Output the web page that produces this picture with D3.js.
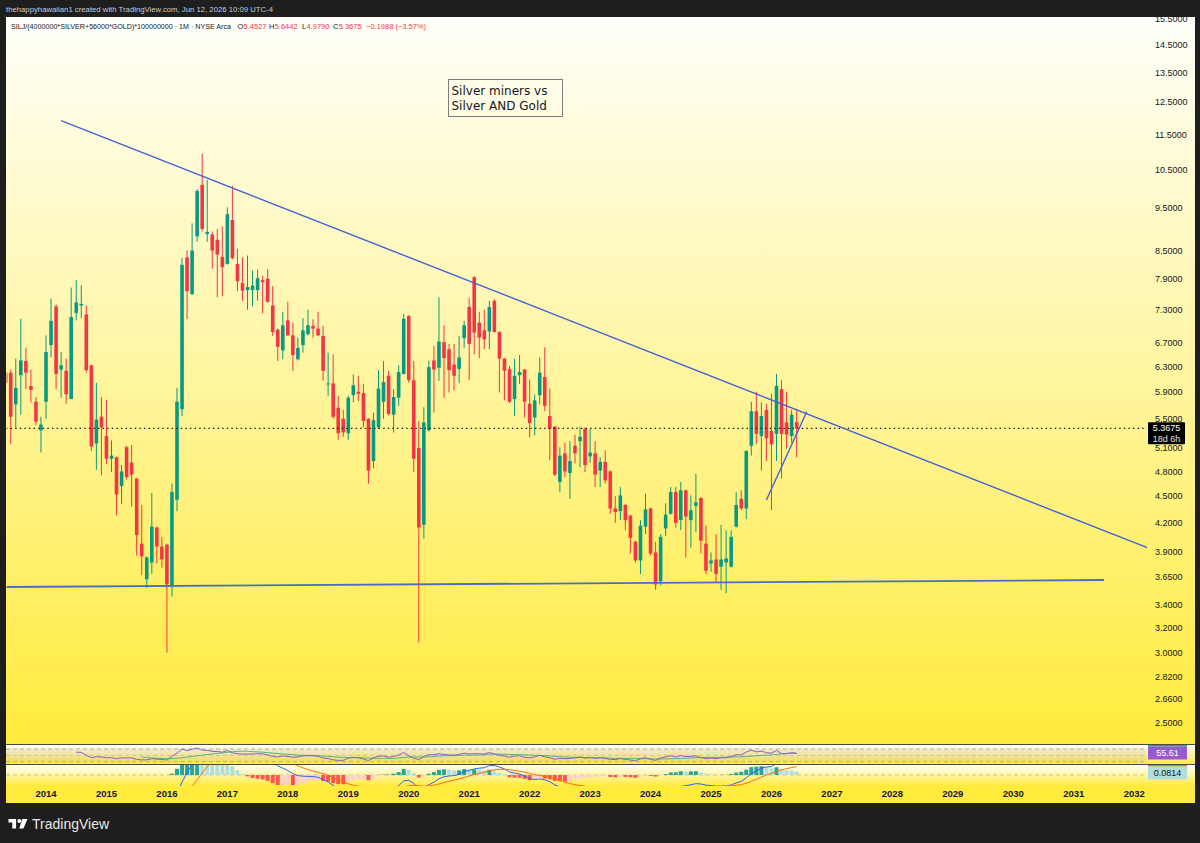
<!DOCTYPE html>
<html>
<head>
<meta charset="utf-8">
<script src="https://cdn.jsdelivr.net/npm/d3@7"></script>
<style>
  body { margin: 0; background: #1e1e1e; }
  svg { display: block; }
</style>
</head>
<body>
<script>
// ---- data (monthly bars) ----
var firstBar = "2013-05";

var opens = [
  6.20, 6.20, 5.71, 6.16, 6.39, 5.99, 5.75, 5.34,                         // 2013 May-Dec
  5.75, 6.66, 7.36, 6.25, 6.23, 5.79, 7.24, 7.38, 7.21, 6.32, 5.16, 5.53, // 2014
  5.26, 4.96, 4.98, 4.62, 5.11, 4.91, 4.71, 3.98, 3.63, 3.79, 4.15, 3.95, // 2015
  3.97, 3.57, 4.46, 5.64, 8.36, 7.60, 8.83, 10.09, 8.88, 8.87, 8.75, 8.37, // 2016
  8.22, 9.21, 8.22, 7.82, 7.68, 7.68, 7.68, 7.88, 7.91, 7.38, 6.93, 6.57, // 2017
  7.10, 6.83, 6.42, 6.66, 6.85, 7.00, 6.95, 6.82, 6.02, 6.03, 5.66, 5.50, // 2018
  5.30, 5.85, 5.90, 5.88, 5.50, 4.93, 5.38, 5.75, 6.15, 5.56, 5.81, 6.18, // 2019
  7.18, 6.08, 5.10, 4.18, 5.34, 6.40, 6.28, 6.71, 6.59, 6.33, 6.26, 6.78, // 2020
  7.35, 7.94, 7.06, 6.92, 6.90, 7.47, 6.89, 6.43, 6.26, 5.79, 6.16, 6.25, // 2021
  5.72, 5.52, 5.85, 6.13, 5.54, 5.39, 4.67, 5.03, 4.78, 5.13, 5.19, 5.36, // 2022
  4.99, 5.03, 4.81, 4.92, 4.80, 4.36, 4.33, 4.40, 4.28, 4.00, 3.81, 4.16, // 2023
  4.36, 3.89, 3.61, 4.14, 4.30, 4.55, 4.23, 4.57, 4.23, 4.39, 4.48, 3.98, // 2024
  3.78, 3.82, 3.75, 3.79, 3.75, 4.16, 4.47, 4.36, 5.13, 5.61, 5.26, 5.63, // 2025
  5.33, 5.29, 5.94, 5.45, 5.26, 5.4527                                    // 2026
];
var highs = [
  6.23, 6.25, 6.43, 7.13, 6.61, 6.25, 5.82, 5.53,
  6.83, 7.51, 7.40, 6.54, 6.43, 7.73, 7.88, 7.78, 7.38, 6.33, 6.04, 5.82,
  5.78, 5.20, 4.99, 4.88, 5.13, 5.14, 4.72, 4.40, 3.85, 4.54, 4.16, 4.05,
  3.98, 4.65, 5.96, 8.35, 8.51, 9.13, 9.98, 10.94, 10.22, 8.94, 9.00, 9.06,
  9.52, 10.06, 8.55, 8.36, 8.40, 8.08, 8.10, 7.97, 8.11, 7.76, 6.95, 7.26,
  7.45, 7.06, 6.79, 7.14, 7.30, 7.12, 7.26, 7.00, 6.53, 6.50, 5.84, 5.63,
  5.84, 6.17, 6.15, 6.02, 5.51, 5.59, 6.24, 6.39, 6.23, 5.94, 6.32, 7.22,
  7.20, 6.39, 5.47, 5.67, 6.40, 6.64, 7.54, 7.01, 6.68, 6.68, 6.82, 7.09,
  7.52, 7.96, 7.26, 7.30, 7.47, 7.50, 6.90, 6.44, 6.31, 6.43, 6.49, 6.26,
  6.09, 5.86, 6.45, 6.62, 5.95, 5.40, 5.11, 5.17, 5.19, 5.28, 5.39, 5.38,
  5.36, 5.19, 4.98, 5.07, 4.81, 4.50, 4.61, 4.41, 4.29, 4.01, 4.23, 4.53,
  4.37, 4.00, 4.08, 4.42, 4.61, 4.61, 4.67, 4.58, 4.51, 4.77, 4.49, 4.17,
  3.89, 4.08, 4.18, 4.12, 4.12, 4.55, 4.57, 5.07, 5.75, 5.90, 5.74, 5.72,
  5.87, 6.18, 6.08, 5.90, 5.63, 5.6442
];
var lows = [
  6.02, 5.15, 5.38, 5.56, 5.94, 5.74, 5.41, 5.04,
  5.50, 6.45, 5.94, 5.81, 5.72, 5.79, 7.10, 7.14, 6.20, 5.06, 4.82, 4.75,
  4.89, 4.79, 4.28, 4.41, 4.70, 4.38, 3.86, 3.67, 3.55, 3.68, 3.78, 3.74,
  3.00, 3.47, 4.33, 5.54, 7.12, 7.58, 8.71, 8.94, 8.71, 8.12, 7.54, 7.56,
  8.20, 8.32, 7.66, 7.47, 7.30, 7.36, 7.47, 7.23, 7.43, 6.82, 6.39, 6.42,
  6.82, 6.23, 6.40, 6.53, 6.83, 6.79, 6.82, 6.07, 5.84, 5.50, 5.21, 5.25,
  5.21, 5.74, 5.76, 5.38, 4.65, 4.84, 5.36, 5.50, 5.55, 5.31, 5.69, 6.17,
  6.04, 4.79, 3.08, 4.03, 5.32, 5.59, 6.07, 5.81, 5.89, 5.92, 6.03, 6.61,
  6.08, 6.50, 6.44, 6.59, 6.59, 6.88, 5.89, 5.77, 5.73, 5.54, 6.02, 5.52,
  5.24, 5.27, 5.71, 5.61, 4.94, 4.74, 4.55, 4.73, 4.47, 4.90, 4.85, 4.79,
  4.91, 4.61, 4.61, 4.65, 4.30, 4.20, 4.23, 4.12, 3.88, 3.79, 3.68, 4.08,
  3.86, 3.53, 3.57, 4.06, 4.29, 4.15, 4.12, 3.84, 3.94, 4.10, 3.88, 3.68,
  3.70, 3.60, 3.53, 3.50, 3.74, 4.15, 4.34, 4.24, 5.00, 5.15, 4.81, 4.93,
  4.34, 4.93, 4.71, 5.09, 5.17, 4.979
];
var closes = [
  6.04, 5.53, 5.96, 6.40, 6.20, 5.93, 5.46, 5.42,
  6.54, 7.09, 6.18, 6.32, 5.86, 7.16, 7.44, 7.41, 6.24, 5.12, 5.49, 5.38,
  4.96, 5.00, 4.52, 4.80, 4.73, 4.76, 4.07, 3.85, 3.84, 4.16, 3.95, 3.82,
  3.58, 4.55, 5.75, 8.20, 7.66, 8.51, 9.93, 9.00, 8.93, 8.51, 8.42, 8.15,
  9.35, 8.34, 7.86, 7.67, 7.74, 7.77, 7.92, 7.84, 7.45, 6.89, 6.63, 7.01,
  6.83, 6.49, 6.61, 6.92, 7.01, 6.95, 6.83, 6.23, 6.03, 5.53, 5.30, 5.31,
  5.81, 6.00, 5.87, 5.47, 4.81, 5.48, 5.95, 6.05, 5.57, 5.82, 6.21, 7.13,
  6.08, 4.96, 4.15, 5.45, 6.29, 6.25, 6.72, 6.44, 6.24, 6.15, 6.45, 7.01,
  6.68, 6.88, 6.79, 6.76, 7.35, 6.89, 6.43, 6.23, 5.75, 6.15, 6.21, 5.75,
  5.44, 5.77, 6.20, 5.69, 5.36, 4.76, 5.00, 4.80, 4.93, 5.03, 5.25, 4.88,
  5.04, 4.76, 4.92, 4.69, 4.36, 4.32, 4.51, 4.23, 4.04, 3.81, 4.17, 4.35,
  3.88, 3.58, 4.05, 4.29, 4.55, 4.20, 4.57, 4.27, 4.34, 4.43, 4.01, 3.71,
  3.81, 3.68, 3.82, 3.83, 4.05, 4.40, 4.36, 5.06, 5.61, 5.29, 5.54, 5.23,
  5.15, 5.99, 5.29, 5.28, 5.56, 5.3675
];

var priceTicks = [15.5, 14.5, 13.5, 12.5, 11.5, 10.5, 9.5, 8.5, 7.9, 7.3, 6.7, 6.3,
                  5.9, 5.5, 5.1, 4.8, 4.5, 4.2, 3.9, 3.65, 3.4, 3.2, 3.0, 2.82, 2.66, 2.5];
var yearTicks = [2014, 2015, 2016, 2017, 2018, 2019, 2020, 2021, 2022, 2023,
                 2024, 2025, 2026, 2027, 2028, 2029, 2030, 2031, 2032];

// drawings: [month, price]
var resistanceLine = [["2014-04", 11.92], ["2032-07", 3.870]];
var supportLine = [["2013-05", 3.557], ["2031-07", 3.622]];
var breakoutLine = [["2025-12", 4.457], ["2026-08", 5.603]];

var lastClose = 5.3675, countdown = "18d 6h";
var rsiLast = "55.61", histLast = "0.0814";
var headerText = "thehappyhawaiian1 created with TradingView.com, Jun 12, 2026 10:09 UTC-4";
var symbolText = "SILJ/(4000000*SILVER+56000*GOLD)*100000000 \u00b7 1M \u00b7 NYSE Arca";
var ohlcLegend = [["O", "5.4527"], ["H", "5.6442"], ["L", "4.9790"], ["C", "5.3675"]];
var changeText = "\u22120.1988 (\u22123.57%)";
var noteLines = ["Silver miners vs", "Silver AND Gold"];

// ---- layout ----
var W = 1200, H = 843;
var left = 6, right = 1195, paneRight = 1147;
var priceTop = 17, priceBottom = 744;
var rsiTop = 745, rsiBottom = 764;
var macdTop = 765, macdBottom = 786, chartBottom = 803;
var upColor = "#089981", downColor = "#f23645";

function monthIndex(s) {
  var p = s.split("-");
  return (+p[0] - 2014) * 12 + (+p[1] - 1);
}

var x = d3.scaleLinear()
  .domain([monthIndex("2013-05"), monthIndex("2032-01")])
  .range([5.7, 1134.2]);

var y = d3.scaleLog()
  .domain([2.3675, 15.59])
  .range([priceBottom, priceTop]);

var rsiY = d3.scaleLinear().domain([30, 70]).range([761.7, 749]);
var macdY = d3.scaleLinear().domain([0, 0.1]).range([775, 771]);

var bars = opens.map(function (o, i) {
  return { m: monthIndex(firstBar) + i, o: o, h: highs[i], l: lows[i], c: closes[i] };
});

// ---- indicators from the closes ----
function rsi(src, n) {
  var out = src.map(function () { return null; });
  var g = 0, l = 0;
  for (var i = 1; i < src.length; i++) {
    var d = src[i] - src[i - 1], up = Math.max(d, 0), dn = Math.max(-d, 0);
    if (i <= n) {
      g += up; l += dn;
      if (i === n) { g /= n; l /= n; out[i] = 100 - 100 / (1 + g / l); }
    } else {
      g = (g * (n - 1) + up) / n;
      l = (l * (n - 1) + dn) / n;
      out[i] = l === 0 ? 100 : 100 - 100 / (1 + g / l);
    }
  }
  return out;
}
function sma(src, n) {
  var buf = [];
  return src.map(function (v) {
    if (v == null) return null;
    buf.push(v);
    if (buf.length > n) buf.shift();
    return buf.length === n ? d3.mean(buf) : null;
  });
}
function ema(src, n) {
  var k = 2 / (n + 1), prev = null, buf = [];
  return src.map(function (v) {
    if (v == null) return null;
    if (prev == null) {
      buf.push(v);
      if (buf.length === n) { prev = d3.mean(buf); return prev; }
      return null;
    }
    prev = v * k + prev * (1 - k);
    return prev;
  });
}

var rsiVals = rsi(closes, 14);
var rsiMa = sma(rsiVals, 14);
var ema12 = ema(closes, 12), ema26 = ema(closes, 26);
var macd = closes.map(function (c, i) {
  return ema12[i] != null && ema26[i] != null ? ema12[i] - ema26[i] : null;
});
var signal = ema(macd, 9);
var hist = macd.map(function (v, i) {
  return v != null && signal[i] != null ? v - signal[i] : null;
});

// ---- svg ----
var svg = d3.select("body").append("svg")
  .attr("width", W).attr("height", H)
  .style("font-family", "'Liberation Sans', Arial, sans-serif");

svg.append("rect").attr("width", W).attr("height", H).attr("fill", "#1e1e1e");

var defs = svg.append("defs");
var grad = defs.append("linearGradient").attr("id", "paneBg")
  .attr("x1", 0).attr("y1", 0).attr("x2", 0).attr("y2", 1);
grad.append("stop").attr("offset", "0%").attr("stop-color", "#fffffa");
grad.append("stop").attr("offset", "45%").attr("stop-color", "#fff6a8");
grad.append("stop").attr("offset", "100%").attr("stop-color", "#ffeb3b");

function clip(id, x0, y0, x1, y1) {
  defs.append("clipPath").attr("id", id).append("rect")
    .attr("x", x0).attr("y", y0).attr("width", x1 - x0).attr("height", y1 - y0);
}
clip("priceClip", 6.6, priceTop, paneRight, priceBottom);
clip("axisClip", paneRight, priceTop, right, priceBottom);
clip("rsiClip", left, rsiTop, paneRight, rsiBottom);
clip("macdClip", left, macdTop, paneRight, macdBottom);

// pane backgrounds
[[priceTop, priceBottom], [rsiTop, rsiBottom], [macdTop, macdBottom]].forEach(function (p) {
  svg.append("rect").attr("x", left).attr("y", p[0])
    .attr("width", right - left).attr("height", p[1] - p[0])
    .attr("fill", "url(#paneBg)");
});
svg.append("rect").attr("x", left).attr("y", macdBottom)
  .attr("width", right - left).attr("height", chartBottom - macdBottom)
  .attr("fill", "#ffeb3b");

// pane separators
[priceBottom + 0.5, rsiBottom + 0.5].forEach(function (yy) {
  svg.append("line").attr("x1", left).attr("x2", right).attr("y1", yy).attr("y2", yy)
    .attr("stroke", "#4a4a3c").attr("stroke-width", 1);
});

// header
svg.append("text").attr("x", 6).attr("y", 12)
  .attr("font-size", 8).attr("fill", "#c9ccd4")
  .attr("textLength", 267).attr("lengthAdjust", "spacingAndGlyphs")
  .text(headerText);

// ---- price pane ----
var pricePane = svg.append("g").attr("clip-path", "url(#priceClip)");

var candles = pricePane.selectAll("g.bar")
  .data(bars)
  .enter().append("g")
  .attr("class", "bar");

candles.append("line")
  .attr("x1", function (d) { return x(d.m); })
  .attr("x2", function (d) { return x(d.m); })
  .attr("y1", function (d) { return y(d.h); })
  .attr("y2", function (d) { return y(d.l); })
  .attr("stroke", function (d) { return d.c >= d.o ? upColor : downColor; })
  .attr("stroke-width", 1);

candles.append("rect")
  .attr("x", function (d) { return x(d.m) - 1.8; })
  .attr("width", 3.6)
  .attr("y", function (d) { return Math.min(y(d.o), y(d.c)); })
  .attr("height", function (d) { return Math.max(1, Math.abs(y(d.o) - y(d.c))); })
  .attr("fill", function (d) { return d.c >= d.o ? upColor : downColor; });

// current price dotted line
pricePane.append("line")
  .attr("x1", left).attr("x2", paneRight)
  .attr("y1", y(lastClose)).attr("y2", y(lastClose))
  .attr("stroke", "#131722").attr("stroke-width", 1.3)
  .attr("stroke-dasharray", "1.4,3.2");

// drawings
function drawLine(pts, color, w) {
  pricePane.append("line")
    .attr("x1", x(monthIndex(pts[0][0]))).attr("y1", y(pts[0][1]))
    .attr("x2", x(monthIndex(pts[1][0]))).attr("y2", y(pts[1][1]))
    .attr("stroke", color).attr("stroke-width", w);
}
drawLine(resistanceLine, "#4263d6", 1.4);
drawLine(supportLine, "#4a6dc2", 1.8);
drawLine(breakoutLine, "#4263d6", 1.4);

// text note
var noteX = 448.5, noteY = 79.5;
svg.append("rect").attr("x", noteX).attr("y", noteY)
  .attr("width", 114).attr("height", 37)
  .attr("fill", "none").attr("stroke", "#7c7c7c").attr("stroke-width", 1);
noteLines.forEach(function (t, i) {
  svg.append("text").attr("x", 451.5).attr("y", 95 + i * 15)
    .attr("font-family", "'DejaVu Sans', Verdana, sans-serif")
    .attr("font-size", 12).attr("fill", "#131722").text(t);
});

// legend: symbol line, then O/H/L/C pairs
var legendY = 28.5, legendSize = 7.5;
svg.append("text").attr("x", 11).attr("y", legendY)
  .attr("font-size", 7.2).attr("fill", "#131722")
  .attr("textLength", 220).attr("lengthAdjust", "spacingAndGlyphs")
  .text(symbolText);
var legendX = [237.5, 269, 302, 333];
var letterW = { O: 6.1, H: 5.7, L: 4.5, C: 5.7 };
ohlcLegend.forEach(function (d, i) {
  svg.append("text").attr("x", legendX[i]).attr("y", legendY)
    .attr("font-size", legendSize).attr("fill", "#131722").text(d[0]);
  svg.append("text").attr("x", legendX[i] + letterW[d[0]]).attr("y", legendY)
    .attr("font-size", legendSize).attr("fill", downColor).text(d[1]);
});
svg.append("text").attr("x", 366).attr("y", legendY)
  .attr("font-size", legendSize).attr("fill", downColor).text(changeText);

// price axis
var axisG = svg.append("g").attr("clip-path", "url(#axisClip)");
axisG.selectAll("text.tick")
  .data(priceTicks)
  .enter().append("text")
  .attr("class", "tick")
  .attr("x", 1155)
  .attr("y", function (d) { return y(d) + 3.2; })
  .attr("font-size", 9).attr("fill", "#131722")
  .text(function (d) { return d.toFixed(4); });

// last price label
var ly = y(lastClose);
svg.append("rect").attr("x", 1148).attr("y", ly - 6).attr("width", 37).attr("height", 22)
  .attr("fill", "#000000").attr("rx", 1);
svg.append("text").attr("x", 1166.5).attr("y", ly + 3.2).attr("text-anchor", "middle")
  .attr("font-size", 9).attr("fill", "#ffffff").text(lastClose.toFixed(4));
svg.append("text").attr("x", 1166.5).attr("y", ly + 13.5).attr("text-anchor", "middle")
  .attr("font-size", 9).attr("fill", "#e0e0e0").text(countdown);

// ---- RSI pane ----
var rsiPane = svg.append("g").attr("clip-path", "url(#rsiClip)");
rsiPane.append("rect").attr("x", left).attr("y", rsiY(70))
  .attr("width", paneRight - left).attr("height", rsiY(30) - rsiY(70))
  .attr("fill", "#7e57c2").attr("opacity", 0.1);
[70, 50, 30].forEach(function (lv) {
  rsiPane.append("line").attr("x1", left).attr("x2", paneRight)
    .attr("y1", rsiY(lv)).attr("y2", rsiY(lv))
    .attr("stroke", "#9598a1").attr("stroke-width", 0.8)
    .attr("stroke-dasharray", "4,3").attr("opacity", lv === 50 ? 0.5 : 0.9);
});
var rsiLine = d3.line()
  .defined(function (d) { return d.v != null; })
  .x(function (d) { return x(d.m); })
  .y(function (d) { return rsiY(d.v); });
rsiPane.append("path")
  .datum(bars.map(function (b, i) { return { m: b.m, v: rsiMa[i] }; }))
  .attr("d", rsiLine).attr("fill", "none").attr("stroke", "#52b788").attr("stroke-width", 1);
rsiPane.append("path")
  .datum(bars.map(function (b, i) { return { m: b.m, v: rsiVals[i] }; }))
  .attr("d", rsiLine).attr("fill", "none").attr("stroke", "#8a5cc9").attr("stroke-width", 1);

svg.append("rect").attr("x", 1148).attr("y", 745).attr("width", 39).attr("height", 1.6).attr("fill", "#2aa37a");
svg.append("rect").attr("x", 1148).attr("y", 746.5).attr("width", 39).attr("height", 13).attr("fill", "#9b59d0");
svg.append("text").attr("x", 1167.5).attr("y", 756.3).attr("text-anchor", "middle")
  .attr("font-size", 9).attr("fill", "#ffffff").text(rsiLast);

// ---- MACD pane ----
var macdPane = svg.append("g").attr("clip-path", "url(#macdClip)");
macdPane.append("line").attr("x1", left).attr("x2", paneRight)
  .attr("y1", macdY(0)).attr("y2", macdY(0))
  .attr("stroke", "#9598a1").attr("stroke-width", 0.8).attr("stroke-dasharray", "4,3").attr("opacity", 0.7);

var histData = bars.map(function (b, i) {
  var h = hist[i], p = i > 0 ? hist[i - 1] : null, col = null;
  if (h != null) {
    if (h >= 0) col = (p == null || h > p) ? "#26a69a" : "#b2dfdb";
    else col = (p == null || h < p) ? "#ff5252" : "#ffcdd2";
  }
  return { m: b.m, v: h, color: col };
}).filter(function (d) { return d.v != null; });

macdPane.selectAll("rect.hist")
  .data(histData)
  .enter().append("rect")
  .attr("class", "hist")
  .attr("x", function (d) { return x(d.m) - 2; })
  .attr("width", 4)
  .attr("y", function (d) { return Math.min(macdY(0), macdY(d.v)); })
  .attr("height", function (d) { return Math.abs(macdY(d.v) - macdY(0)); })
  .attr("fill", function (d) { return d.color; });

var macdLine = d3.line()
  .defined(function (d) { return d.v != null; })
  .x(function (d) { return x(d.m); })
  .y(function (d) { return macdY(d.v); });
macdPane.append("path")
  .datum(bars.map(function (b, i) { return { m: b.m, v: macd[i] }; }))
  .attr("d", macdLine).attr("fill", "none").attr("stroke", "#2962ff").attr("stroke-width", 1);
macdPane.append("path")
  .datum(bars.map(function (b, i) { return { m: b.m, v: signal[i] }; }))
  .attr("d", macdLine).attr("fill", "none").attr("stroke", "#ff6d00").attr("stroke-width", 1);

svg.append("rect").attr("x", 1148).attr("y", 765).attr("width", 39).attr("height", 1.6).attr("fill", "#e0772a");
svg.append("rect").attr("x", 1148).attr("y", 766.5).attr("width", 39).attr("height", 13).attr("fill", "#b2dfdb");
svg.append("text").attr("x", 1167.5).attr("y", 776.3).attr("text-anchor", "middle")
  .attr("font-size", 9).attr("fill", "#131722").text(histLast);

// ---- time axis ----
svg.selectAll("text.year")
  .data(yearTicks)
  .enter().append("text")
  .attr("class", "year")
  .attr("x", function (d) { return x(monthIndex(d + "-01")); })
  .attr("y", 797)
  .attr("text-anchor", "middle")
  .attr("font-size", 9.5).attr("font-weight", "bold").attr("fill", "#131722")
  .text(function (d) { return d; });

// ---- TradingView mark ----
var logo = svg.append("g").attr("fill", "#ffffff");
logo.append("path").attr("d", "M8.5,819h7.6v9.5h-3.8v-5.9h-3.8z");
logo.append("circle").attr("cx", 19.3).attr("cy", 821).attr("r", 2);
logo.append("path").attr("d", "M22.3,819h5.2l-4.1,9.5h-4.2z");
svg.append("text").attr("x", 32).attr("y", 828.5)
  .attr("font-size", 14).attr("fill", "#e6e6e6").text("TradingView");
</script>
</body>
</html>
